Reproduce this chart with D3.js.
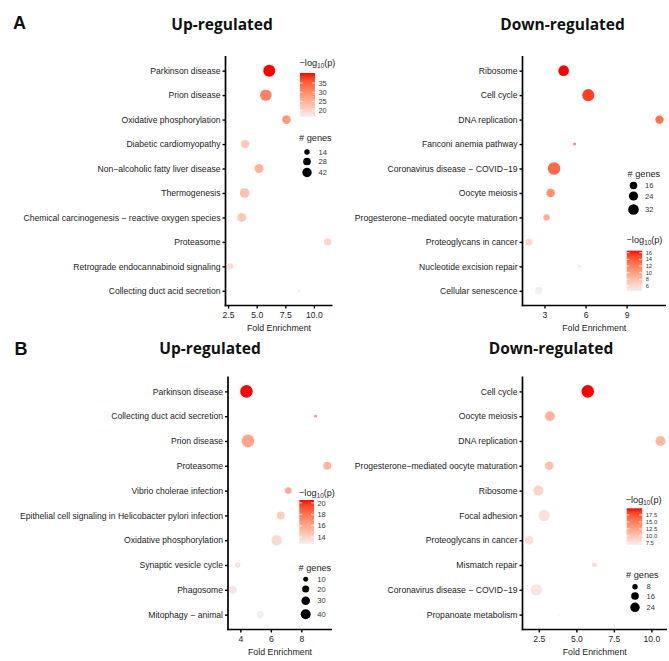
<!DOCTYPE html>
<html><head><meta charset="utf-8">
<script src="https://cdn.jsdelivr.net/npm/d3@7"></script>
<style>body{margin:0;background:#fff}svg{display:block}</style>
</head><body>
<svg id="chart" width="669" height="661"></svg>
<script>
// ---------- Panel A, up-regulated ----------
const aUpTerms = ["Parkinson disease","Prion disease","Oxidative phosphorylation","Diabetic cardiomyopathy","Non−alcoholic fatty liver disease","Thermogenesis","Chemical carcinogenesis − reactive oxygen species","Proteasome","Retrograde endocannabinoid signaling","Collecting duct acid secretion"];
const aUpFold  = [6.1, 5.8, 7.6, 4.0, 5.2, 3.95, 3.7, 11.2, 2.7, 8.7];
const aUpLogP  = [40.5, 31, 28, 22, 25, 23, 22, 20, 19, 16.5];
const aUpGenes = [68, 62, 35, 33, 38, 44, 38, 26, 17, 3];
const aUpXTicks = [2.5, 5.0, 7.5, 10.0];
const aUpXTickLabels = ["2.5","5.0","7.5","10.0"];
const aUpSizeBreaks = [14, 28, 42];
const aUpColorBreaks = [20, 25, 30, 35];

// ---------- Panel A, down-regulated ----------
const aDownTerms = ["Ribosome","Cell cycle","DNA replication","Fanconi anemia pathway","Coronavirus disease − COVID−19","Oocyte meiosis","Progesterone−mediated oocyte maturation","Proteoglycans in cancer","Nucleotide excision repair","Cellular senescence"];
const aDownFold  = [4.4, 6.2, 11.4, 5.2, 3.7, 3.45, 3.15, 1.87, 5.55, 2.58];
const aDownLogP  = [16.6, 15.2, 12.8, 12.2, 13.2, 11, 9, 6, 5.3, 4.5];
const aDownGenes = [32, 41, 20, 2, 45, 21, 12, 14, 2, 16];
const aDownXTicks = [3, 6, 9];
const aDownXTickLabels = ["3","6","9"];
const aDownSizeBreaks = [16, 24, 32];
const aDownColorBreaks = [6, 8, 10, 12, 14, 16];

// ---------- Panel B, up-regulated ----------
const bUpTerms = ["Parkinson disease","Collecting duct acid secretion","Prion disease","Proteasome","Vibrio cholerae infection","Epithelial cell signaling in Helicobacter pylori infection","Oxidative phosphorylation","Synaptic vesicle cycle","Phagosome","Mitophagy − animal"];
const bUpFold  = [4.4, 8.93, 4.5, 9.7, 7.14, 6.65, 6.38, 3.83, 3.5, 5.3];
const bUpLogP  = [20.5, 17, 16, 15.3, 15.8, 14.3, 13.8, 13.3, 13.2, 12.8];
const bUpGenes = [64, 3, 66, 26, 18, 26, 45, 12, 26, 22];
const bUpXTicks = [4, 6, 8];
const bUpXTickLabels = ["4","6","8"];
const bUpSizeBreaks = [10, 20, 30, 40];
const bUpColorBreaks = [14, 16, 18, 20];

// ---------- Panel B, down-regulated ----------
const bDownTerms = ["Cell cycle","Oocyte meiosis","DNA replication","Progesterone−mediated oocyte maturation","Ribosome","Focal adhesion","Proteoglycans in cancer","Mismatch repair","Coronavirus disease − COVID−19","Propanoate metabolism"];
const bDownFold  = [5.76, 3.24, 10.6, 3.19, 2.47, 2.86, 1.85, 6.2, 2.34, 3.81];
const bDownLogP  = [19.9, 11.2, 11, 10.3, 8.8, 7.8, 8, 8.3, 7.4, 6.7];
const bDownGenes = [43, 27, 27, 20, 27, 35, 20, 6, 35, 1];
const bDownXTicks = [2.5, 5.0, 7.5, 10.0];
const bDownXTickLabels = ["2.5","5.0","7.5","10.0"];
const bDownSizeBreaks = [8, 16, 24];
const bDownColorBreaks = [7.5, 10.0, 12.5, 15.0, 17.5];
const bDownColorBreakLabels = ["7.5","10.0","12.5","15.0","17.5"];

const LOW = "#f4eeee", HIGH = "#ff0000";
const svg = d3.select("#chart");
const defs = svg.append("defs");
const FONT = "'Liberation Sans', Arial, sans-serif";

const panels = [
  {id:"au", title:"Up-regulated", titleX:222, titleY:30, terms:aUpTerms, fold:aUpFold, logp:aUpLogP, genes:aUpGenes,
   xt:aUpXTicks, xtl:aUpXTickLabels, sb:aUpSizeBreaks, cb:aUpColorBreaks, cbl:aUpColorBreaks.map(String), rMax:6, cbFont:7.4,
   box:{l:225.5, r:332.5, t:56, b:305.5},
   color:{x:299.5, ty:66, bx:300, bw:15, by:73, bh:44}, size:{x:299, ty:141, cx:307, cy:[152,161.5,172.5]}},
  {id:"ad", title:"Down-regulated", titleX:562.5, titleY:30, terms:aDownTerms, fold:aDownFold, logp:aDownLogP, genes:aDownGenes,
   xt:aDownXTicks, xtl:aDownXTickLabels, sb:aDownSizeBreaks, cb:aDownColorBreaks, cbl:aDownColorBreaks.map(String), rMax:6.3, cbFont:5.7,
   box:{l:522.5, r:666, t:56, b:305.5},
   color:{x:626.5, ty:243, bx:626.7, bw:15.5, by:250.7, bh:40.3}, size:{x:627.5, ty:177, cx:633.5, cy:[185.5,196,209.5]}},
  {id:"bu", title:"Up-regulated", titleX:210, titleY:354, terms:bUpTerms, fold:bUpFold, logp:bUpLogP, genes:bUpGenes,
   xt:bUpXTicks, xtl:bUpXTickLabels, sb:bUpSizeBreaks, cb:bUpColorBreaks, cbl:bUpColorBreaks.map(String), rMax:6.4, cbFont:7.4,
   box:{l:228, r:332, t:376.5, b:629.5},
   color:{x:299, ty:495.5, bx:299.3, bw:14.7, by:500, bh:44}, size:{x:298.5, ty:571, cx:305.7, cy:[579.3,589,600.7,614.3]}},
  {id:"bd", title:"Down-regulated", titleX:551, titleY:354, terms:bDownTerms, fold:bDownFold, logp:bDownLogP, genes:bDownGenes,
   xt:bDownXTicks, xtl:bDownXTickLabels, sb:bDownSizeBreaks, cb:bDownColorBreaks, cbl:bDownColorBreakLabels, rMax:6.3, cbFont:5.9,
   box:{l:522.5, r:667, t:376.5, b:629.5},
   color:{x:625.7, ty:503, bx:626.7, bw:15.5, by:508.3, bh:36.7}, size:{x:626, ty:578, cx:635, cy:[586.7,596,607.3]}}
];

// panel letters
svg.append("text").attr("x",13).attr("y",29).text("A")
  .attr("font-family",FONT).attr("font-weight","bold").attr("font-size",18).attr("fill","#111");
svg.append("text").attr("x",14.5).attr("y",355).text("B")
  .attr("font-family",FONT).attr("font-weight","bold").attr("font-size",18).attr("fill","#111");

function logTitle(g, x, y){
  const t = g.append("text").attr("x",x).attr("y",y).attr("font-family",FONT).attr("font-size",9.2).attr("fill","#222");
  t.append("tspan").text("−log");
  t.append("tspan").text("10").attr("font-size",6.3).attr("dy",2);
  t.append("tspan").text("(p)").attr("dy",-2);
}

panels.forEach(p => {
  const g = svg.append("g");
  // title
  g.append("text").attr("x",p.titleX).attr("y",p.titleY).attr("text-anchor","middle")
    .attr("font-family","'Open Sans', sans-serif").attr("font-weight",700).attr("font-size",15.5).attr("fill","#111")
    .text(p.title);

  const [fmin, fmax] = d3.extent(p.fold);
  const pad = (fmax - fmin) * 0.05;
  const x = d3.scaleLinear().domain([fmin - pad, fmax + pad]).range([p.box.l, p.box.r]);
  const y = d3.scalePoint().domain(p.terms).range([p.box.t, p.box.b]).padding(0.6);
  const r = d3.scaleSqrt().domain([0, d3.max(p.genes)]).range([0, p.rMax]);
  const cdom = d3.extent(p.logp);
  const c = d3.scaleLinear().domain(cdom).range([LOW, HIGH]).interpolate(d3.interpolateLab);

  // points
  const data = p.terms.map((t,i) => ({t, f:p.fold[i], lp:p.logp[i], n:p.genes[i]}));
  g.append("g").selectAll("circle").data(data).join("circle")
    .attr("cx", d => x(d.f)).attr("cy", d => y(d.t)).attr("r", d => r(d.n)).attr("fill", d => c(d.lp));

  // axes
  const ax = g.append("g").attr("transform",`translate(0,${p.box.b})`)
    .call(d3.axisBottom(x).tickValues(p.xt).tickFormat((d,i)=>p.xtl[i]).tickSize(3).tickSizeOuter(0).tickPadding(3));
  const ay = g.append("g").attr("transform",`translate(${p.box.l},0)`)
    .call(d3.axisLeft(y).tickSize(3).tickSizeOuter(0).tickPadding(2));
  [ax, ay].forEach(a => {
    a.select(".domain").attr("stroke","#000").attr("stroke-width",1.7);
    a.selectAll(".tick line").attr("stroke","#000").attr("stroke-width",1.4);
    a.selectAll(".tick text").attr("font-family",FONT).attr("font-size",8.6).attr("fill","#222");
  });
  ay.select(".domain").attr("d",`M0,${p.box.t}V${p.box.b + 0.85}`);
  ax.select(".domain").attr("d",`M${p.box.l - 0.85},0H${p.box.r}`);

  g.append("text").attr("x",(p.box.l+p.box.r)/2).attr("y",p.box.b+25)
    .attr("text-anchor","middle").attr("font-family",FONT).attr("font-size",8.8).attr("fill","#222")
    .text("Fold Enrichment");

  // color legend
  const L = p.color;
  logTitle(g, L.x, L.ty);
  const gid = "grad_" + p.id;
  const grad = defs.append("linearGradient").attr("id",gid).attr("x1",0).attr("x2",0).attr("y1",1).attr("y2",0);
  d3.range(0,1.0001,0.1).forEach(s => {
    grad.append("stop").attr("offset",s).attr("stop-color", c(cdom[0] + s*(cdom[1]-cdom[0])));
  });
  g.append("rect").attr("x",L.bx).attr("y",L.by).attr("width",L.bw).attr("height",L.bh).attr("fill",`url(#${gid})`);
  const cy = d3.scaleLinear().domain(cdom).range([L.by + L.bh, L.by]);
  p.cb.forEach((v,i) => {
    const yy = cy(v);
    g.append("line").attr("x1",L.bx).attr("x2",L.bx+3).attr("y1",yy).attr("y2",yy).attr("stroke","#fff").attr("stroke-width",0.8);
    g.append("line").attr("x1",L.bx+L.bw-3).attr("x2",L.bx+L.bw).attr("y1",yy).attr("y2",yy).attr("stroke","#fff").attr("stroke-width",0.8);
    g.append("text").attr("x",L.bx+L.bw+3.5).attr("y",yy+p.cbFont*0.36).attr("font-family",FONT).attr("font-size",p.cbFont).attr("fill","#333").text(p.cbl[i]);
  });

  // size legend
  const S = p.size;
  g.append("text").attr("x",S.x).attr("y",S.ty).attr("font-family",FONT).attr("font-size",9.2).attr("fill","#222").text("# genes");
  p.sb.forEach((v,i) => {
    g.append("circle").attr("cx",S.cx).attr("cy",S.cy[i]).attr("r",r(v)).attr("fill","#000");
    g.append("text").attr("x",S.cx+11.5).attr("y",S.cy[i]+2.7).attr("font-family",FONT).attr("font-size",7.6).attr("fill","#333").text(v);
  });
});
</script>
</body></html>
